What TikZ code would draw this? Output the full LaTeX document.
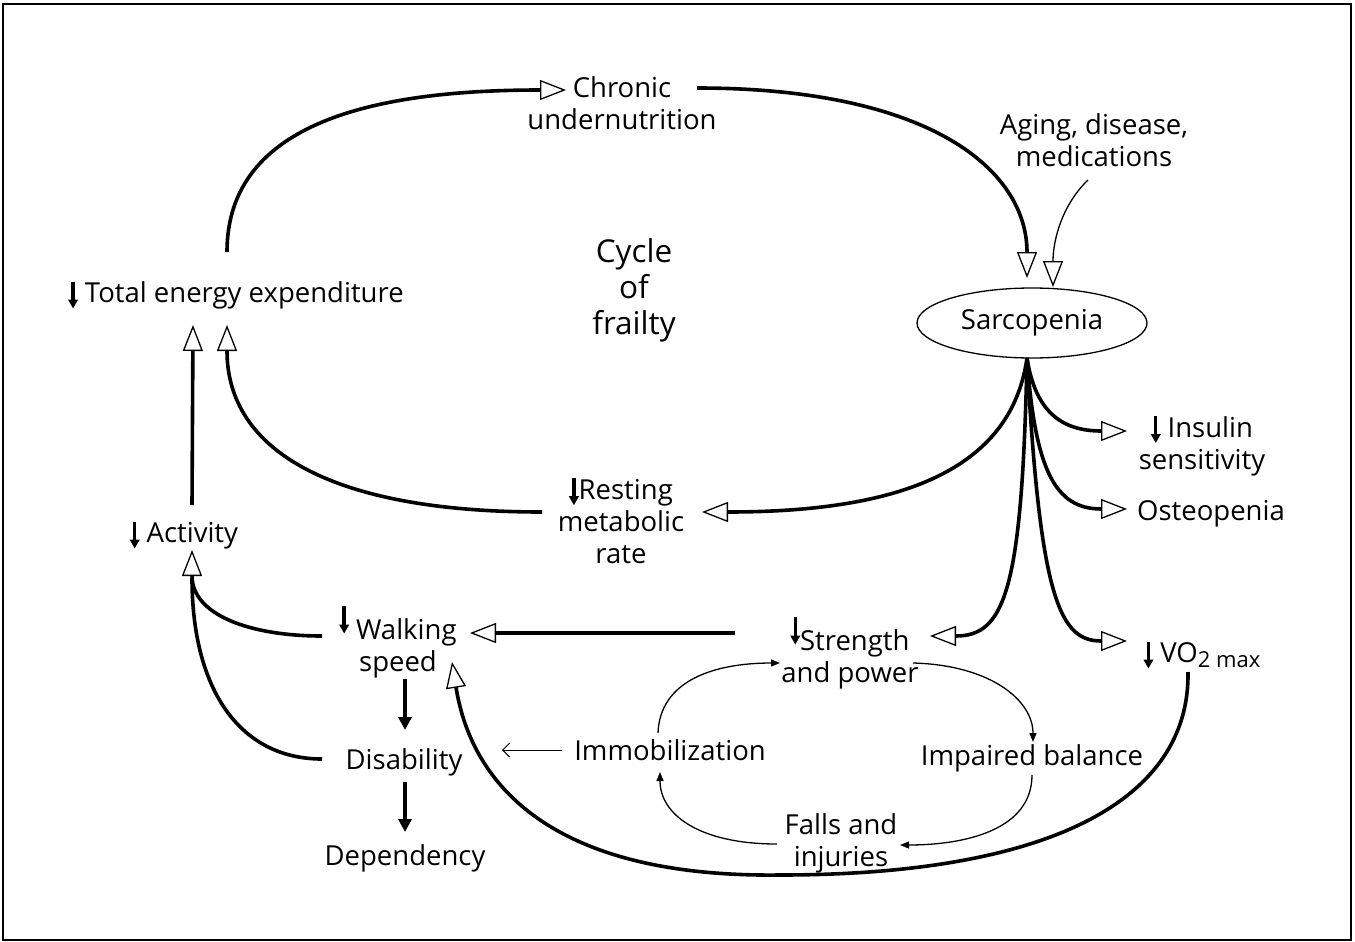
\documentclass[tikz,border=0pt]{standalone}
\usepackage{fontspec}
\setmainfont{Open Sans}
\usetikzlibrary{arrows.meta,shapes.geometric,calc}
\newcommand{\dnarrow}{\tikz[baseline=0pt]\draw[line width=3.4pt,-{Triangle[length=9pt,width=9.5pt]}] (0pt,21pt)--(0pt,-6pt);}
\newcommand{\dnarrowup}{\tikz[baseline=0pt]\draw[line width=3.4pt,-{Triangle[length=9pt,width=9.5pt]}] (0pt,34pt)--(0pt,6pt);}
\begin{document}
\begin{tikzpicture}[x=1pt,y=-1pt,
  lbl/.style={font=\fontsize{27.5}{32}\selectfont, align=center, inner sep=0pt},
  thk/.style={line width=3.6pt},
  thn/.style={line width=1.3pt},
  oarr/.style={-{Triangle[open,length=26pt,width=20pt,line width=1.3pt]}},
  sarr/.style={-{Triangle[length=9pt,width=7pt]}},
  darr/.style={line width=3.6pt,-{Triangle[length=13pt,width=13pt]}},
  barb/.style={line width=1pt,-{Straight Barb[length=7pt,width=14pt]}},
]
\useasboundingbox (0,0) rectangle (1355,942);
\draw[line width=1.5pt] (3,4) rectangle (1351,940);

% nodes
\node[lbl] (ch) at (622,103) {Chronic\\undernutrition};
\node[lbl] (ag) at (1094,140) {Aging, disease,\\medications};
\node[lbl, draw, ellipse, line width=1.3pt, minimum width=230pt, minimum height=70pt] (sar) at (1032,323) {Sarcopenia};
\node[lbl, font=\fontsize{31.5}{36}\selectfont] (cyc) at (634,290) {Cycle\\of\\frailty};
\node[lbl] (tee) at (236,295) {\dnarrow\ Total energy expenditure};
\node[lbl] (act) at (184,535) {\dnarrow\ Activity};
\node[lbl] (rmr) at (621,520) {\dnarrow Resting\\metabolic\\rate};
\node[lbl] (ws) at (398,641) {\dnarrowup\ Walking\\speed};
\node[lbl] (dis) at (404,762) {Disability};
\node[lbl] (dep) at (405,858) {Dependency};
\node[lbl] (imm) at (670,750) {Immobilization};
\node[lbl] (sp) at (850,652) {\dnarrowup Strength\\and power};
\node[lbl] (ib) at (1032,758) {Impaired balance};
\node[lbl] (fi) at (841,843) {Falls and\\injuries};
\node[lbl] (ins) at (1202,445) {\dnarrow\ Insulin\\sensitivity};
\node[lbl] (ost) at (1211,514) {Osteopenia};
\node[lbl] (vo) at (1202,655) {\dnarrow\ VO\raisebox{-5pt}{\fontsize{22}{22}\selectfont 2 max}};

% coordinates
\coordinate (teeT) at (227,252);
\coordinate (chL) at (566,90);
\coordinate (chR) at (697,88);
\coordinate (sarT1) at (1027,278);
\coordinate (agB) at (1088,180);
\coordinate (sarT2) at (1053,287);
\coordinate (fan) at (1027,358);
\coordinate (insL) at (1127,431);
\coordinate (ostL) at (1127,509);
\coordinate (voL) at (1127,641);
\coordinate (spR) at (930,636);
\coordinate (rmrR) at (702,512);
\coordinate (rmrL) at (542,512);
\coordinate (teeB2) at (227,325);
\coordinate (teeB1) at (193,325);
\coordinate (actT) at (192,505);
\coordinate (actB) at (192,550);
\coordinate (actJ) at (192,578);
\coordinate (wsL) at (322,636);
\coordinate (disL) at (322,759);
\coordinate (spL) at (735,633);
\coordinate (wsR) at (470,633);
\coordinate (voB) at (1188,672);
\coordinate (wsB) at (452,662);
\coordinate (wsD) at (405,679);
\coordinate (disU) at (405,730);
\coordinate (disD) at (405,782);
\coordinate (depU) at (405,832);
\coordinate (immL) at (562,750);
\coordinate (disR) at (502,750);

% main cycle
\draw[thk,oarr] (teeT) .. controls (227,120) and (380,90) .. (chL);
\draw[thk,oarr] (chR) .. controls (930,88) and (1027,170) .. (sarT1);
\draw[thn,oarr] (agB) .. controls (1062,205) and (1053,240) .. (sarT2);

% fan from sarcopenia
\draw[thk,oarr] (fan) .. controls (1035,410) and (1060,431) .. (insL);
\draw[thk,oarr] (fan) .. controls (1035,470) and (1055,509) .. (ostL);
\draw[thk,oarr] (fan) .. controls (1040,600) and (1060,641) .. (voL);
\draw[thk,oarr] (fan) .. controls (1022,590) and (1005,636) .. (spR);
\draw[thk,oarr] (fan) .. controls (1010,480) and (880,512) .. (rmrR);

% to total energy expenditure
\draw[thk,oarr] (rmrL) .. controls (330,512) and (227,450) .. (teeB2);
\draw[thk,oarr] (actT) -- (teeB1);
\draw[thk,oarr] (wsL) .. controls (250,636) and (192,615) .. (actB);
\draw[thk] (disL) .. controls (240,759) and (192,690) .. (actJ);

% walking speed inputs
\draw[thk,oarr] (spL) -- (wsR);
\draw[thk,oarr] (voB) .. controls (1190,800) and (1050,875) .. (780,875) .. controls (540,878) and (470,775) .. (wsB);

% down arrows
\draw[darr] (wsD) -- (disU);
\draw[darr] (disD) -- (depU);
\draw[barb] (immL) -- (disR);

% small cycle
\draw[thn,sarr] (658,733) .. controls (660,680) and (715,663) .. (780,663);
\draw[thn,sarr] (913,663) .. controls (990,665) and (1033,700) .. (1033,742);
\draw[thn,sarr] (1032,775) .. controls (1032,830) and (965,845) .. (900,845);
\draw[thn,sarr] (777,844) .. controls (700,844) and (660,815) .. (660,772);
\end{tikzpicture}
\end{document}
